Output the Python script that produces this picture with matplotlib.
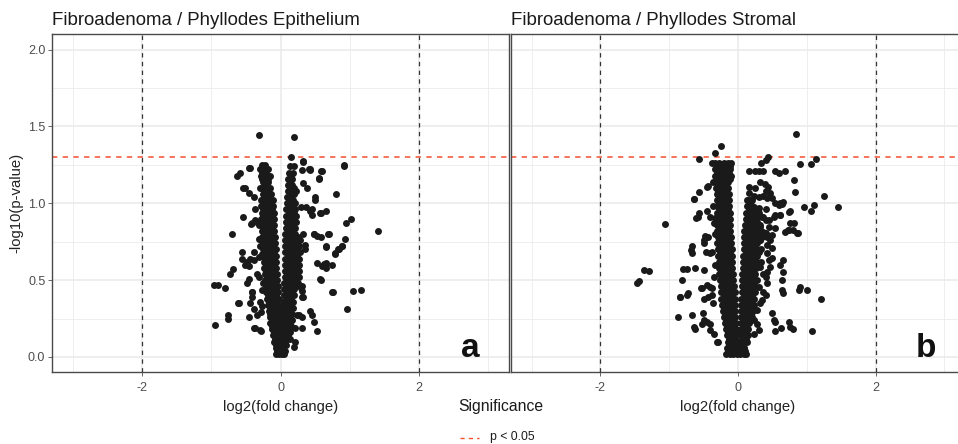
import matplotlib
matplotlib.use("Agg")
import matplotlib.pyplot as plt
from matplotlib.lines import Line2D

plt.rcParams['font.family'] = ['Liberation Sans', 'DejaVu Sans']

# ---------------- data ----------------
titles = ["Fibroadenoma / Phyllodes Epithelium", "Fibroadenoma / Phyllodes Stromal"]
panel_letters = ["a", "b"]
x_ticks = [-2, 0, 2]
y_ticks = [0.0, 0.5, 1.0, 1.5, 2.0]
y_tick_labels = ["0.0", "0.5", "1.0", "1.5", "2.0"]
fc_cut = [-2, 2]
p_cut = 1.30103  # -log10(0.05)

# Panel a: scattered points
a_x = [-0.31, 0.19, 0.155, 0.92, 0.32, 0.59, 0.55, 0.43, 0.80, 0.50, 0.50, 0.65, 0.57, 0.45,
       1.02, 0.95, 1.41, 0.70, 0.48, 0.53, 0.58, 0.93, 0.88, 0.83, 0.78, 0.66, 0.35, 0.35,
       0.53, 0.60, 0.65, 0.745, 0.57, 0.745, 1.045, 1.16, 0.31, 0.31, 0.31, 0.96, 0.42, 0.455,
       0.48, 0.53, 0.26, 0.31, 0.21, 0.31, 0.21, 0.19,
       0.33, 0.915, 0.31, 0.41, 0.43, 0.60, 0.55, 0.33, 0.38, 0.30, 0.36, 0.58, 0.43, 0.45,
       0.33, 0.48, 0.69, 0.66, 0.79, 0.84, 0.89, 0.62, 0.65, 0.58, 0.76, 0.30, 0.33, 0.24,
       -0.46, -0.63, -0.585, -0.54, -0.46, -0.39, -0.37, -0.54, -0.42, -0.37, -0.71, -0.32,
       -0.56, -0.56, -0.51, -0.46, -0.39, -0.39, -0.73, -0.69, -0.46, -0.49, -0.97, -0.91,
       -0.80, -0.42, -0.42, -0.60, -0.44, -0.39, -0.755, -0.765, -0.95, -0.46, -0.34, -0.29,
       -0.37, -0.285, -0.27, -0.25, -0.32, -0.27, -0.30, -0.25, -0.23,
       -0.44, -0.52, -0.295, -0.27, -0.34, -0.32, -0.43, -0.295, -0.49, -0.44, -0.32, -0.34,
       -0.42, -0.27, -0.295, -0.38, -0.295, -0.61]
a_y = [1.446, 1.433, 1.30, 1.25, 1.27, 1.21, 1.16, 1.22, 1.06, 1.04, 1.02, 0.95, 0.94, 0.96,
       0.90, 0.87, 0.82, 0.80, 0.80, 0.79, 0.78, 0.77, 0.72, 0.70, 0.67, 0.72, 0.70, 0.73,
       0.61, 0.59, 0.61, 0.60, 0.51, 0.42, 0.43, 0.435, 0.46, 0.43, 0.39, 0.31, 0.30, 0.27,
       0.23, 0.17, 0.27, 0.26, 0.19, 0.19, 0.10, 0.065,
       1.276, 1.246, 1.217, 1.224, 1.217, 1.207, 1.163, 1.13, 1.10, 0.978, 0.978, 0.94, 0.95, 0.924,
       0.80, 0.80, 0.80, 0.717, 0.674, 0.70, 0.72, 0.604, 0.576, 0.504, 0.424, 0.446, 0.387, 0.272,
       1.23, 1.18, 1.20, 1.10, 1.065, 1.04, 0.96, 0.91, 0.87, 0.89, 0.80, 0.77,
       0.685, 0.64, 0.60, 0.59, 0.63, 0.685, 0.54, 0.575, 0.51, 0.48, 0.47, 0.47,
       0.45, 0.42, 0.39, 0.35, 0.35, 0.315, 0.27, 0.25, 0.21, 0.26, 0.27, 0.29,
       0.19, 0.17, 0.435, 0.48, 0.52, 0.67, 0.72, 0.83, 0.79,
       1.23, 1.10, 1.10, 1.16, 0.876, 0.86, 0.865, 0.77, 0.62, 0.64, 0.65, 0.54,
       0.424, 0.33, 0.36, 0.19, 0.174, 0.35]

# Panel a: dense core, listed by row (y) with the x values in each row
a_core_left_y = [0.02, 0.06, 0.10, 0.14, 0.18, 0.22, 0.26, 0.30, 0.34, 0.38, 0.42, 0.46, 0.50,
                 0.54, 0.58, 0.62, 0.66, 0.70, 0.74, 0.78, 0.82, 0.86, 0.90, 0.94, 0.98, 1.02,
                 1.06, 1.10, 1.14, 1.18, 1.22, 1.25]
a_core_left_x = [[-0.06, -0.02, 0.02, 0.05], [-0.07, -0.03, 0.01], [-0.09, -0.05, -0.01],
                 [-0.11, -0.06, -0.02], [-0.13, -0.08, -0.03], [-0.15, -0.10, -0.05, -0.01],
                 [-0.16, -0.11, -0.06, -0.02], [-0.17, -0.12, -0.07, -0.02],
                 [-0.19, -0.13, -0.08, -0.03], [-0.20, -0.15, -0.09, -0.03],
                 [-0.21, -0.15, -0.10, -0.04], [-0.21, -0.16, -0.10, -0.04],
                 [-0.22, -0.17, -0.11, -0.05], [-0.23, -0.17, -0.11, -0.05],
                 [-0.24, -0.18, -0.12, -0.06], [-0.24, -0.18, -0.12, -0.06],
                 [-0.25, -0.19, -0.13, -0.07], [-0.25, -0.19, -0.13, -0.07],
                 [-0.26, -0.20, -0.14, -0.08], [-0.27, -0.20, -0.14, -0.08],
                 [-0.27, -0.21, -0.15, -0.09], [-0.27, -0.21, -0.15, -0.09],
                 [-0.28, -0.22, -0.16, -0.10], [-0.27, -0.21, -0.15, -0.10],
                 [-0.28, -0.22, -0.16, -0.11], [-0.28, -0.22, -0.16, -0.11],
                 [-0.26, -0.20, -0.14], [-0.27, -0.21, -0.15], [-0.25, -0.19],
                 [-0.28, -0.22, -0.16], [-0.30, -0.24, -0.19], [-0.27, -0.22]]
a_core_left2_y = [0.04, 0.08, 0.12, 0.16, 0.20, 0.24, 0.28, 0.32, 0.36, 0.40, 0.44, 0.48, 0.52,
                  0.56, 0.60, 0.64, 0.68, 0.72, 0.76, 0.80, 0.84, 0.88, 0.92, 0.96, 1.00, 1.04,
                  1.08, 1.12, 1.16, 1.20]
a_core_left2_x = [[-0.05, -0.01, 0.03], [-0.07, -0.03], [-0.08, -0.04], [-0.10, -0.05],
                  [-0.12, -0.07, -0.02], [-0.13, -0.08, -0.04], [-0.15, -0.09, -0.04],
                  [-0.16, -0.10, -0.05], [-0.17, -0.11, -0.06], [-0.18, -0.12, -0.06],
                  [-0.18, -0.13, -0.07], [-0.19, -0.14, -0.08], [-0.20, -0.14, -0.08],
                  [-0.21, -0.15, -0.09], [-0.21, -0.15, -0.09], [-0.22, -0.16, -0.10],
                  [-0.22, -0.16, -0.10], [-0.23, -0.17, -0.11], [-0.23, -0.17, -0.11],
                  [-0.24, -0.18, -0.12], [-0.24, -0.18, -0.12], [-0.25, -0.19, -0.13],
                  [-0.25, -0.19, -0.13], [-0.25, -0.19, -0.13], [-0.25, -0.19, -0.14],
                  [-0.24, -0.18], [-0.24, -0.18], [-0.23], [-0.25, -0.19], [-0.27, -0.21]]
a_core_right_y = [0.04, 0.08, 0.12, 0.16, 0.20, 0.24, 0.28, 0.32, 0.36, 0.40, 0.44, 0.48, 0.52,
                  0.56, 0.60, 0.64, 0.68, 0.72, 0.76, 0.80, 0.84, 0.88, 0.92, 0.96, 1.00, 1.04,
                  1.08, 1.12, 1.16, 1.20, 1.24]
a_core_right_x = [[0.02, 0.06], [0.03, 0.08], [0.03, 0.09, 0.13], [0.04, 0.09, 0.14],
                  [0.04, 0.10, 0.15], [0.04, 0.10, 0.16], [0.04, 0.10, 0.17], [0.05, 0.11, 0.18],
                  [0.05, 0.11, 0.18], [0.05, 0.12, 0.19], [0.05, 0.12, 0.20],
                  [0.05, 0.12, 0.19, 0.25], [0.06, 0.12, 0.19, 0.26], [0.06, 0.13, 0.20, 0.27],
                  [0.06, 0.13, 0.20, 0.27], [0.06, 0.13, 0.20, 0.26], [0.07, 0.13, 0.20, 0.28],
                  [0.07, 0.14, 0.21, 0.27], [0.07, 0.14, 0.21, 0.28], [0.07, 0.14, 0.21],
                  [0.08, 0.14, 0.21], [0.08, 0.15, 0.22], [0.08, 0.15, 0.22], [0.08, 0.15, 0.21],
                  [0.09, 0.15, 0.21], [0.09, 0.15], [0.10, 0.16, 0.22], [0.10, 0.16],
                  [0.11, 0.17], [0.12, 0.18], [0.13, 0.19]]
a_core_right2_y = [0.06, 0.10, 0.14, 0.18, 0.22, 0.26, 0.30, 0.34, 0.38, 0.42, 0.46, 0.50, 0.54,
                   0.58, 0.62, 0.66, 0.70, 0.74, 0.78, 0.82, 0.86, 0.90, 0.94, 0.98, 1.02, 1.06,
                   1.10, 1.14, 1.18]
a_core_right2_x = [[0.04], [0.06], [0.06, 0.11], [0.07, 0.12], [0.07, 0.13], [0.07, 0.13],
                   [0.08, 0.14], [0.08, 0.14], [0.08, 0.15], [0.09, 0.16], [0.09, 0.16, 0.22],
                   [0.09, 0.16, 0.22], [0.09, 0.16, 0.23], [0.10, 0.17, 0.24], [0.10, 0.17, 0.24],
                   [0.10, 0.17, 0.23], [0.10, 0.17, 0.24], [0.11, 0.18, 0.24], [0.11, 0.18, 0.25],
                   [0.11, 0.18], [0.11, 0.18], [0.12, 0.19], [0.12, 0.19], [0.12, 0.18],
                   [0.12, 0.18], [0.13, 0.19], [0.13, 0.19], [0.14], [0.15]]

# Panel b: scattered points
b_x = [-1.066, -1.37, -1.29, -1.47, -1.44, -0.24, -0.33, -0.56, -0.38, -0.57, -0.45, -0.64,
       -0.56, -0.58, -0.45, -0.40, -0.67, -0.67, -0.50, -0.43, -0.48, -0.46, -0.40, -0.38,
       -0.80, -0.74, -0.62, -0.50, -0.81, -0.52, -0.45, -0.40, -0.84, -0.74, -0.72, -0.50,
       -0.43, -0.87, -0.67, -0.51, -0.50, -0.52, -0.45, -0.62, -0.64, -0.40, -0.305, -0.35,
       -0.36, -0.44, -0.635, -0.605, -0.33, -0.35, -0.68, -0.49, -0.38, -0.54, -0.38, -0.85,
       -0.295, -0.40, -0.34, -0.36, -0.35, -0.34, -0.36,
       0.85, 0.436, 0.41, 0.34, 0.905, 1.065, 1.13, 0.155, 0.24, 0.30, 0.37, 0.54, 0.59, 0.69,
       0.82, 0.83, 1.245, 1.45, 0.965, 1.06, 1.10,
       0.32, 0.39, 0.44, 0.40, 0.47, 0.49, 0.36, 0.30, 0.25, 0.42,
       0.155, 0.155, 0.18, 0.13, 0.23, 0.54, 0.615, 0.66, 0.76, 0.54, 0.615, 0.40, 0.30, 0.23,
       0.18, 0.76, 0.735, 0.69, 0.54, 0.855,
       0.23, 0.275, 0.35, 0.40, 0.25, 0.32, 0.20, 0.37, 0.45, 0.155, 0.275, 0.42, 0.49, 0.32,
       0.13, 0.87, 0.80, 0.81, 0.73,
       0.66, 0.615, 0.66, 0.64, 0.64, 0.66, 0.49, 0.49, 0.47, 0.42, 0.40, 0.905, 1.0, 0.89,
       1.21, 1.075, 0.735, 0.80, 0.76, 0.63, 0.54, 0.49, 0.52, 0.54,
       0.37, 0.40, 0.35, 0.325, 0.275, 0.23, 0.275, 0.30, 0.23,
       0.42, 0.445, 0.325, 0.37, 0.275, 0.42, 0.30,
       0.30, 0.37, 0.445, 0.325, 0.275, 0.40, 0.47, 0.42,
       0.59, 0.64, 0.735, 0.615, 0.52]
b_y = [0.867, 0.565, 0.559, 0.478, 0.493, 1.374, 1.33, 1.287, 1.26, 1.076, 1.104, 1.03,
       0.935, 0.913, 0.95, 0.909, 0.724, 0.674, 0.76, 0.78, 0.79, 0.68, 0.674, 0.685,
       0.57, 0.574, 0.58, 0.565, 0.50, 0.446, 0.467, 0.457, 0.39, 0.40, 0.413, 0.38,
       0.39, 0.26, 0.276, 0.283, 0.24, 0.217, 0.228, 0.185, 0.196, 0.174, 0.098, 0.152,
       1.14, 1.11, 1.028, 0.902, 0.902, 0.87, 0.696, 0.74, 0.446, 0.446, 0.40, 0.387,
       0.10, 0.217, 0.60, 0.35, 0.52, 0.80, 0.98,
       1.452, 1.30, 1.28, 1.265, 1.254, 1.254, 1.287, 1.207, 1.211, 1.211, 1.211, 1.213, 1.196, 1.213,
       1.152, 1.076, 1.048, 0.974, 0.974, 0.952, 0.989,
       1.141, 1.126, 1.109, 1.083, 1.065, 1.033, 1.048, 1.043, 1.098, 1.033,
       1.109, 1.065, 1.022, 1.022, 1.048, 1.0, 1.004, 1.011, 0.952, 0.924, 0.924, 0.961, 0.967, 0.974,
       0.946, 0.87, 0.826, 0.815, 0.837, 0.804,
       0.913, 0.902, 0.913, 0.891, 0.87, 0.848, 0.826, 0.815, 0.848, 0.804, 0.793, 0.783, 0.793, 0.761,
       0.761, 0.804, 0.826, 0.874, 0.826,
       0.63, 0.598, 0.554, 0.50, 0.435, 0.413, 0.707, 0.641, 0.587, 0.554, 0.52, 0.457, 0.435, 0.435,
       0.376, 0.17, 0.228, 0.185, 0.196, 0.19, 0.17, 0.283, 0.24, 0.228,
       0.424, 0.402, 0.37, 0.348, 0.304, 0.24, 0.217, 0.174, 0.152,
       0.674, 0.63, 0.587, 0.543, 0.50, 0.478, 0.457,
       0.935, 0.913, 0.891, 0.859, 0.826, 0.804, 0.761, 0.728,
       0.989, 0.996, 0.946, 0.924, 0.913]

b_core_left_y = [0.02, 0.06, 0.10, 0.14, 0.18, 0.22, 0.26, 0.30, 0.34, 0.38, 0.42, 0.46, 0.50,
                 0.54, 0.58, 0.62, 0.66, 0.70, 0.74, 0.78, 0.82, 0.86, 0.90, 0.94, 0.98, 1.02,
                 1.06, 1.10, 1.14, 1.18, 1.22, 1.26]
b_core_left_x = [[-0.17, -0.12, -0.07, -0.02, 0.03, 0.08, 0.12],
                 [-0.16, -0.11, -0.06, -0.01, 0.04, 0.09],
                 [-0.15, -0.10, -0.05, -0.01], [-0.16, -0.11, -0.06, -0.02],
                 [-0.18, -0.13, -0.08, -0.03], [-0.19, -0.14, -0.09, -0.03],
                 [-0.20, -0.15, -0.10, -0.04], [-0.22, -0.16, -0.10, -0.04],
                 [-0.23, -0.17, -0.11, -0.05], [-0.24, -0.18, -0.12, -0.05],
                 [-0.25, -0.19, -0.12, -0.05], [-0.25, -0.19, -0.13, -0.06],
                 [-0.26, -0.20, -0.14, -0.07], [-0.27, -0.21, -0.14, -0.07],
                 [-0.27, -0.21, -0.15, -0.08], [-0.28, -0.22, -0.15, -0.08],
                 [-0.29, -0.22, -0.16, -0.09], [-0.29, -0.23, -0.16, -0.09],
                 [-0.30, -0.23, -0.17, -0.10], [-0.29, -0.23, -0.17, -0.10],
                 [-0.30, -0.24, -0.17, -0.11], [-0.30, -0.24, -0.18, -0.11],
                 [-0.31, -0.24, -0.18, -0.12], [-0.30, -0.24, -0.18, -0.12],
                 [-0.31, -0.25, -0.19, -0.13], [-0.31, -0.25, -0.19, -0.13],
                 [-0.31, -0.25, -0.19, -0.13], [-0.32, -0.26, -0.20, -0.14],
                 [-0.32, -0.26, -0.20, -0.14], [-0.33, -0.27, -0.21, -0.15, -0.10],
                 [-0.34, -0.28, -0.22, -0.16, -0.11], [-0.33, -0.27, -0.21, -0.15, -0.10]]
b_core_left2_y = [0.04, 0.08, 0.12, 0.16, 0.20, 0.24, 0.28, 0.32, 0.36, 0.40, 0.44, 0.48, 0.52,
                  0.56, 0.60, 0.64, 0.68, 0.72, 0.76, 0.80, 0.84, 0.88, 0.92, 0.96, 1.00, 1.04,
                  1.08, 1.12, 1.16, 1.20, 1.24]
b_core_left2_x = [[-0.14, -0.09, -0.04, 0.01, 0.06, 0.10], [-0.13, -0.08, -0.03],
                  [-0.13, -0.08, -0.04], [-0.15, -0.10, -0.05], [-0.16, -0.11, -0.06],
                  [-0.17, -0.12, -0.07], [-0.19, -0.13, -0.07], [-0.20, -0.14, -0.08],
                  [-0.21, -0.15, -0.08], [-0.21, -0.15, -0.09], [-0.22, -0.16, -0.09],
                  [-0.22, -0.16, -0.10], [-0.23, -0.17, -0.10], [-0.24, -0.18, -0.11],
                  [-0.24, -0.18, -0.11], [-0.25, -0.19, -0.12], [-0.26, -0.19, -0.12],
                  [-0.26, -0.20, -0.13], [-0.27, -0.20, -0.13], [-0.27, -0.20, -0.14],
                  [-0.27, -0.21, -0.14], [-0.27, -0.21, -0.15], [-0.28, -0.21, -0.15],
                  [-0.27, -0.21, -0.15], [-0.28, -0.22, -0.16], [-0.28, -0.22, -0.16],
                  [-0.29, -0.23, -0.17], [-0.29, -0.23, -0.17], [-0.30, -0.24, -0.18, -0.12],
                  [-0.31, -0.25, -0.19, -0.13], [-0.30, -0.24, -0.18, -0.12]]
b_core_right_y = [0.06, 0.10, 0.14, 0.18, 0.22, 0.26, 0.30, 0.34, 0.38, 0.42, 0.46, 0.50, 0.54,
                  0.58, 0.62, 0.66, 0.70, 0.74, 0.78, 0.82, 0.86, 0.90, 0.94, 0.98, 1.02]
b_core_right_x = [[0.03, 0.08], [0.03, 0.08, 0.13], [0.04, 0.09, 0.14], [0.04, 0.09, 0.15],
                  [0.04, 0.10, 0.16], [0.05, 0.10, 0.16, 0.21], [0.05, 0.11, 0.17, 0.22],
                  [0.05, 0.11, 0.17, 0.23], [0.05, 0.11, 0.17, 0.23], [0.06, 0.12, 0.18, 0.24],
                  [0.06, 0.12, 0.18, 0.24], [0.06, 0.12, 0.18, 0.25], [0.06, 0.13, 0.19, 0.25],
                  [0.07, 0.13, 0.19, 0.26], [0.07, 0.13, 0.20, 0.27, 0.33], [0.07, 0.14, 0.20, 0.27],
                  [0.08, 0.14, 0.21, 0.28, 0.34], [0.08, 0.15, 0.21, 0.28],
                  [0.09, 0.15, 0.22, 0.29, 0.35], [0.09, 0.16, 0.23, 0.30],
                  [0.10, 0.17, 0.24, 0.31], [0.11, 0.18, 0.25], [0.12, 0.19, 0.26],
                  [0.13, 0.20], [0.14, 0.21]]
b_core_right2_y = [0.08, 0.12, 0.16, 0.20, 0.24, 0.28, 0.32, 0.36, 0.40, 0.44, 0.48, 0.52, 0.56,
                   0.60, 0.64, 0.68, 0.72, 0.76, 0.80, 0.84, 0.88, 0.92, 0.96, 1.00]
b_core_right2_x = [[0.05], [0.06, 0.11], [0.06, 0.12], [0.07, 0.12], [0.07, 0.13, 0.18],
                   [0.08, 0.14, 0.19], [0.08, 0.14, 0.20], [0.08, 0.14, 0.20], [0.09, 0.15, 0.21],
                   [0.09, 0.15, 0.21], [0.09, 0.15, 0.21], [0.09, 0.16, 0.22], [0.10, 0.16, 0.22],
                   [0.10, 0.16, 0.23, 0.30], [0.10, 0.17, 0.24], [0.11, 0.17, 0.24, 0.31],
                   [0.11, 0.18, 0.25], [0.12, 0.18, 0.25, 0.32], [0.12, 0.19, 0.26],
                   [0.13, 0.20, 0.27], [0.14, 0.21, 0.28], [0.15, 0.22], [0.16, 0.23], [0.17]]


def flatten(*pairs):
    xs, ys = [], []
    for rows_y, rows_x in pairs:
        for yv, row in zip(rows_y, rows_x):
            for xv in row:
                xs.append(xv)
                ys.append(yv)
    return xs, ys


W, H = 958, 444
fig = plt.figure(figsize=(W / 100, H / 100), dpi=100)
fig.patch.set_facecolor('white')

ax_a = fig.add_axes([52.3 / W, 1 - 372.3 / H, (509 - 52.3) / W, (372.3 - 34.3) / H])
ax_b = fig.add_axes([511 / W, 1 - 372.3 / H, 454 / W, (372.3 - 34.3) / H])

red = '#F24E30'
pt_col = '#1a1a1a'
grid_col = '#EBEBEB'
spine_col = '#4a4a4a'

panels = [
    (ax_a, a_x, a_y, [(a_core_left_y, a_core_left_x), (a_core_left2_y, a_core_left2_x),
                      (a_core_right_y, a_core_right_x), (a_core_right2_y, a_core_right2_x)]),
    (ax_b, b_x, b_y, [(b_core_left_y, b_core_left_x), (b_core_left2_y, b_core_left2_x),
                      (b_core_right_y, b_core_right_x), (b_core_right2_y, b_core_right2_x)]),
]

for i, (ax, sx, sy, cores) in enumerate(panels):
    ax.set_xlim(-3.3, 3.3)
    ax.set_ylim(-0.1, 2.1)
    ax.set_facecolor('white')
    for v in [-3, -1, 1, 3]:
        ax.axvline(v, color=grid_col, lw=0.6, zorder=0)
    for v in [-2, 0, 2]:
        ax.axvline(v, color=grid_col, lw=1.2, zorder=0)
    for v in [0.25, 0.75, 1.25, 1.75]:
        ax.axhline(v, color=grid_col, lw=0.6, zorder=0)
    for v in y_ticks:
        ax.axhline(v, color=grid_col, lw=1.2, zorder=0)

    cx, cy = flatten(*cores)
    ax.scatter(cx + sx, cy + sy, s=25, color=pt_col, linewidths=0, zorder=3)

    for v in fc_cut:
        ax.axvline(v, color='#333333', lw=0.9, ls=(0, (3.5, 3.5)), zorder=2)
    ax.axhline(p_cut, color=red, lw=1.1, ls=(0, (3.5, 3.5)), zorder=2)

    ax.set_xticks(x_ticks)
    ax.set_xticklabels([str(t) for t in x_ticks])
    ax.tick_params(axis='x', colors='#4D4D4D', labelsize=9, length=3, width=0.6, pad=4)
    for s in ax.spines.values():
        s.set_color(spine_col)
        s.set_linewidth(1.0)
    ax.set_xlabel("log2(fold change)", fontsize=10.7, color='#222222', labelpad=4)
    ax.text(2.88, 0.0, panel_letters[i], fontsize=24, fontweight='bold', ha='right',
            va='baseline', color='#111111', zorder=5)
    ax.set_title(titles[i], loc='left', fontsize=13.4, color='#1a1a1a', pad=7)

ax_a.set_yticks(y_ticks)
ax_a.set_yticklabels(y_tick_labels)
ax_a.tick_params(axis='y', colors='#4D4D4D', labelsize=9, length=3, width=0.6, pad=2)
ax_a.set_ylabel("-log10(p-value)", fontsize=10.7, color='#222222', labelpad=3)
ax_b.set_yticks([])

# legend (bottom centre)
fig.text(458 / W, 1 - 406 / H, "Significance", fontsize=11.3, color='#1a1a1a', ha='left', va='center')
fig.add_artist(Line2D([460 / W, 479 / W], [1 - 438 / H, 1 - 438 / H], color=red, lw=1.0,
                      ls=(0, (3.0, 3.0)), transform=fig.transFigure))
fig.text(490 / W, 1 - 437 / H, "p < 0.05", fontsize=8.8, color='#1a1a1a', ha='left', va='center')

fig.savefig("out.png", dpi=100, facecolor='white')
